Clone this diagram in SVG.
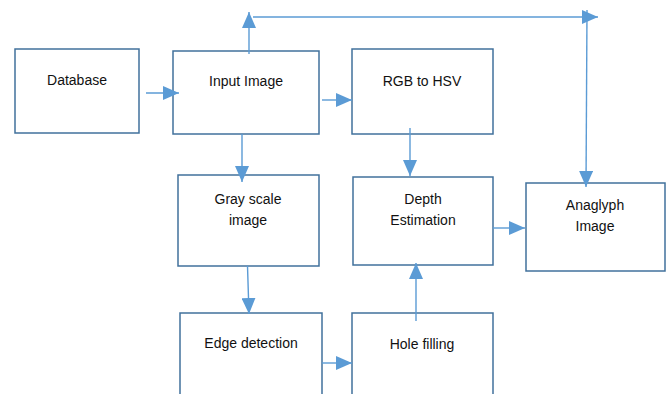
<svg xmlns="http://www.w3.org/2000/svg" width="671" height="394" viewBox="0 0 671 394">
<style>
.box{fill:#fff;stroke:#41719C;stroke-width:1.5}
.lbl{font-family:"Liberation Sans",Arial,sans-serif;font-size:14px;fill:#111;text-anchor:middle}
.con{fill:none;stroke:#5B9BD5;stroke-width:1.4}
</style>
<defs>
<marker id="ah" markerUnits="userSpaceOnUse" markerWidth="16" markerHeight="14" refX="16" refY="7" orient="auto">
<path d="M0,0 L16,7 L0,14 z" fill="#5B9BD5"/>
</marker>
</defs>
<rect width="671" height="394" fill="#fff"/>
<g id="database"><rect class="box" x="15" y="49" width="124" height="84"/><text class="lbl" x="77" y="85">Database</text></g>
<g id="input-image"><rect class="box" x="173" y="51" width="146" height="83"/><text class="lbl" x="246" y="86">Input Image</text></g>
<g id="rgb-to-hsv"><rect class="box" x="352" y="49" width="141" height="85"/><text class="lbl" x="422" y="86">RGB to HSV</text></g>
<g id="gray-scale"><rect class="box" x="178" y="175" width="141" height="91"/><text class="lbl" x="248" y="204">Gray scale</text><text class="lbl" x="248" y="225">image</text></g>
<g id="depth-estimation"><rect class="box" x="353" y="177" width="140" height="88"/><text class="lbl" x="423" y="204">Depth</text><text class="lbl" x="423" y="225">Estimation</text></g>
<g id="anaglyph-image"><rect class="box" x="526" y="183" width="139" height="88"/><text class="lbl" x="595" y="210">Anaglyph</text><text class="lbl" x="595" y="231">Image</text></g>
<g id="edge-detection"><rect class="box" x="180" y="313" width="142" height="90"/><text class="lbl" x="251" y="348">Edge detection</text></g>
<g id="hole-filling"><rect class="box" x="352" y="313" width="141" height="90"/><text class="lbl" x="422" y="349">Hole filling</text></g>
<g id="connectors">
<line class="con" x1="146" y1="93" x2="179" y2="93" marker-end="url(#ah)"/>
<line class="con" x1="249" y1="54" x2="249" y2="12" marker-end="url(#ah)"/>
<line class="con" x1="253" y1="17" x2="598" y2="17" marker-end="url(#ah)"/>
<line class="con" x1="587" y1="10" x2="586" y2="187" marker-end="url(#ah)"/>
<line class="con" x1="242" y1="134" x2="242" y2="182" marker-end="url(#ah)"/>
<line class="con" x1="322" y1="100" x2="352" y2="100" marker-end="url(#ah)"/>
<line class="con" x1="410" y1="128" x2="410" y2="176" marker-end="url(#ah)"/>
<line class="con" x1="247.5" y1="266" x2="249" y2="314" marker-end="url(#ah)"/>
<line class="con" x1="322" y1="363" x2="352" y2="363" marker-end="url(#ah)"/>
<line class="con" x1="416" y1="321" x2="416" y2="263" marker-end="url(#ah)"/>
<line class="con" x1="493" y1="228" x2="525" y2="228" marker-end="url(#ah)"/>
</g>
</svg>
